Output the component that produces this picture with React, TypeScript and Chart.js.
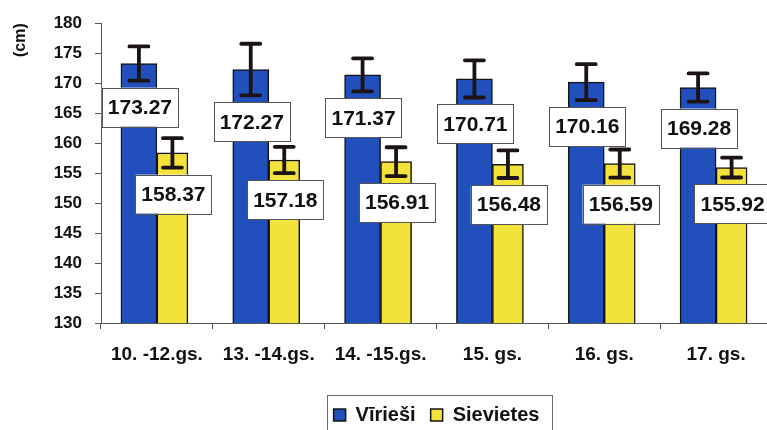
import { useEffect, useRef } from 'react';
import { Chart, registerables } from 'chart.js';

Chart.register(...registerables);

const categories = ['10. -12.gs.', '13. -14.gs.', '14. -15.gs.', '15. gs.', '16. gs.', '17. gs.'];
const seriesNames = ['Vīrieši', 'Sievietes'];
const maleValues = [173.27, 172.27, 171.37, 170.71, 170.16, 169.28];
const femaleValues = [158.37, 157.18, 156.91, 156.48, 156.59, 155.92];
const maleErrors = [2.85, 4.3, 2.75, 3.1, 3.0, 2.35];
const femaleErrors = [2.45, 2.2, 2.4, 2.3, 2.35, 1.65];
const yMin = 130;
const yMax = 180;
const yStep = 5;
const yTitle = '(cm)';

const FONT = '"Liberation Sans", Arial, sans-serif';

const overlayPlugin = {
  id: 'overlay',
  afterDatasetsDraw(chart: any) {
    const ctx = chart.ctx;
    const y = chart.scales.y;
    // error bars
    chart.data.datasets.forEach((ds: any, di: number) => {
      const meta = chart.getDatasetMeta(di);
      meta.data.forEach((bar: any, i: number) => {
        const v = ds.data[i];
        const e = ds.errors[i];
        const yTop = y.getPixelForValue(v + e);
        const yBot = y.getPixelForValue(v - e);
        ctx.save();
        ctx.strokeStyle = '#1c1414';
        ctx.lineWidth = 3.8;
        ctx.lineCap = 'round';
        ctx.beginPath();
        ctx.moveTo(bar.x, yTop);
        ctx.lineTo(bar.x, yBot);
        ctx.moveTo(bar.x - 9.5, yTop);
        ctx.lineTo(bar.x + 9.5, yTop);
        ctx.moveTo(bar.x - 9.5, yBot);
        ctx.lineTo(bar.x + 9.5, yBot);
        ctx.stroke();
        ctx.restore();
      });
    });
    // value labels
    chart.data.datasets.forEach((ds: any, di: number) => {
      const meta = chart.getDatasetMeta(di);
      meta.data.forEach((bar: any, i: number) => {
        const v = ds.data[i];
        const e = ds.errors[i];
        const yBot = y.getPixelForValue(v - e);
        const text = v.toFixed(2);
        ctx.save();
        ctx.font = `bold 21px ${FONT}`;
        const tw = ctx.measureText(text).width;
        const w = tw + 12;
        const h = 39;
        const cx = bar.x + 1;
        const top = yBot + 7;
        ctx.fillStyle = '#ffffff';
        ctx.fillRect(cx - w / 2, top, w, h);
        ctx.strokeStyle = '#555555';
        ctx.lineWidth = 1;
        ctx.strokeRect(Math.round(cx - w / 2) + 0.5, Math.round(top) + 0.5, Math.round(w), h);
        ctx.fillStyle = '#111111';
        ctx.textAlign = 'center';
        ctx.textBaseline = 'middle';
        ctx.fillText(text, cx, top + h / 2 + 1);
        ctx.restore();
      });
    });
  },
  afterDraw(chart: any) {
    const legend = chart.legend;
    if (!legend || !legend.legendHitBoxes || !legend.legendHitBoxes.length) return;
    const boxes = legend.legendHitBoxes;
    const left = Math.min(...boxes.map((b: any) => b.left)) - 7;
    const right = Math.max(...boxes.map((b: any) => b.left + b.width)) + 12;
    const centerY = boxes[0].top + boxes[0].height / 2;
    const top = centerY - 20;
    const ctx = chart.ctx;
    ctx.save();
    ctx.strokeStyle = '#666666';
    ctx.lineWidth = 1;
    ctx.strokeRect(Math.round(left) + 0.5, Math.round(top) + 0.5, Math.round(right - left), 60);
    ctx.restore();
  },
};

export default function App() {
  const canvasRef = useRef<HTMLCanvasElement | null>(null);

  useEffect(() => {
    const canvas = canvasRef.current;
    if (!canvas) return;
    const chart = new Chart(canvas, {
      type: 'bar',
      data: {
        labels: categories,
        datasets: [
          {
            label: seriesNames[0],
            data: maleValues,
            errors: maleErrors,
            backgroundColor: '#2150bd',
            borderColor: '#141414',
            borderWidth: 1.5,
            barThickness: 36,
          } as any,
          {
            label: seriesNames[1],
            data: femaleValues,
            errors: femaleErrors,
            backgroundColor: '#f3e23b',
            borderColor: '#141414',
            borderWidth: 1.5,
            barThickness: 31,
          } as any,
        ],
      },
      options: {
        responsive: false,
        animation: false,
        devicePixelRatio: 1,
        layout: { padding: { left: 0, right: 28, top: 17, bottom: 5 } },
        plugins: {
          tooltip: { enabled: false },
          legend: {
            position: 'bottom',
            fullSize: false,
            labels: {
              boxWidth: 12,
              boxHeight: 12,
              padding: 15,
              color: '#111111',
              font: { family: FONT, size: 20, weight: 'bold' },
            },
          },
        },
        scales: {
          x: {
            afterFit: (s: any) => {
              s.height = 67;
            },
            grid: {
              display: true,
              drawOnChartArea: false,
              drawTicks: true,
              tickLength: 6,
              color: '#555555',
              offset: true,
            },
            border: { display: true, color: '#555555', width: 1 },
            ticks: {
              padding: 14,
              color: '#111111',
              maxRotation: 0,
              autoSkip: false,
              font: { family: FONT, size: 19, weight: 'bold' },
            },
          },
          y: {
            min: yMin,
            max: yMax,
            afterFit: (s: any) => {
              s.width = 101;
            },
            grid: {
              display: true,
              drawOnChartArea: false,
              drawTicks: true,
              tickLength: 6,
              color: '#555555',
            },
            border: { display: true, color: '#555555', width: 1 },
            ticks: {
              stepSize: yStep,
              padding: 13,
              color: '#111111',
              font: { family: FONT, size: 17, weight: 'bold' },
            },
            title: {
              display: true,
              text: yTitle,
              align: 'end',
              color: '#111111',
              padding: { top: 11, bottom: 0 },
              font: { family: FONT, size: 16, weight: 'bold' },
            },
          },
        },
      } as any,
      plugins: [overlayPlugin],
    });
    return () => chart.destroy();
  }, []);

  return (
    <div
      style={{
        position: 'fixed',
        left: 0,
        top: 0,
        width: 767,
        height: 430,
        overflow: 'hidden',
        background: '#ffffff',
      }}
    >
      <canvas ref={canvasRef} width={800} height={440} style={{ width: 800, height: 440, display: 'block' }} />
    </div>
  );
}
